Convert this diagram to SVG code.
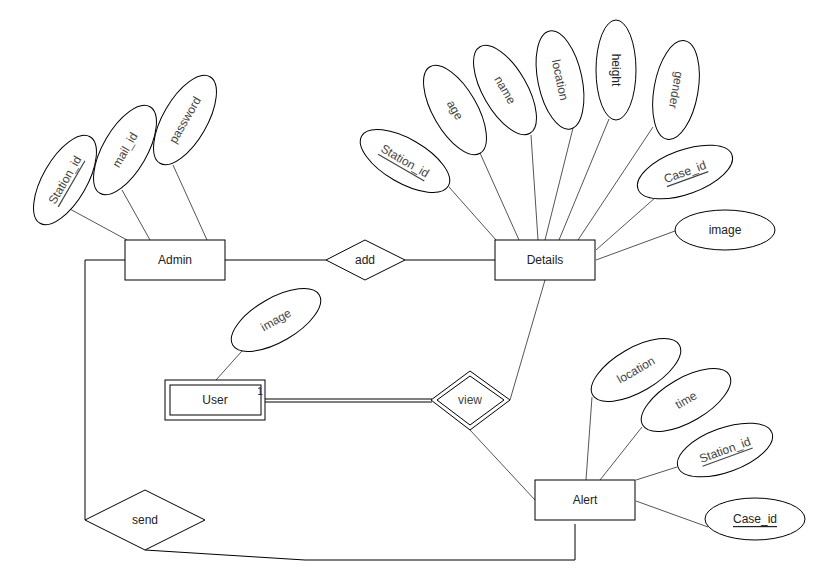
<svg xmlns="http://www.w3.org/2000/svg" width="827" height="582" viewBox="0 0 827 582">
<style>
.ent{fill:#fff;stroke:#000;stroke-width:1}
.att{fill:#fff;stroke:#000;stroke-width:1}
.rel{fill:#fff;stroke:#000;stroke-width:1}
.lbl{font-family:"Liberation Sans",Arial,sans-serif;font-size:12px;fill:#222;text-anchor:middle;dominant-baseline:central}
.albl{font-family:"Liberation Sans",Arial,sans-serif;font-size:12px;fill:#444;text-anchor:middle;dominant-baseline:central}
.u{text-decoration:underline}
.c{stroke:#000;stroke-width:1;fill:none}
.ca{stroke:#555;stroke-width:1;fill:none}
</style>
<rect width="827" height="582" fill="#fff"/>
<g id="connectors">
  <line class="c" x1="225" y1="260" x2="326" y2="260"/>
  <line class="c" x1="405" y1="260" x2="495" y2="260"/>
  <polyline class="c" points="125,260 85,260 85,520"/>
  <polyline class="c" points="145,550 305,560 575,560 575,524"/>
  <line class="c" x1="265" y1="399" x2="432" y2="399"/>
  <line class="c" x1="265" y1="402" x2="432" y2="402"/>
  <line class="ca" x1="545" y1="280" x2="510" y2="400"/>
  <line class="ca" x1="470" y1="430" x2="535" y2="500"/>
  <line class="ca" x1="68" y1="208" x2="127" y2="240"/>
  <line class="ca" x1="122" y1="190" x2="150" y2="240"/>
  <line class="ca" x1="173" y1="165" x2="207" y2="240"/>
  <line class="ca" x1="449" y1="187" x2="496" y2="240"/>
  <line class="ca" x1="480" y1="153" x2="519" y2="240"/>
  <line class="ca" x1="531" y1="135" x2="538" y2="240"/>
  <line class="ca" x1="573" y1="128" x2="545" y2="240"/>
  <line class="ca" x1="609" y1="119" x2="559" y2="240"/>
  <line class="ca" x1="653" y1="127" x2="578" y2="240"/>
  <line class="ca" x1="656" y1="197" x2="596" y2="250"/>
  <line class="ca" x1="675" y1="231" x2="596" y2="260"/>
  <line class="ca" x1="242" y1="351" x2="216" y2="380"/>
  <line class="ca" x1="592" y1="397" x2="586" y2="480"/>
  <line class="ca" x1="642" y1="427" x2="600" y2="480"/>
  <line class="ca" x1="677" y1="467" x2="636" y2="480"/>
  <line class="ca" x1="708" y1="527" x2="636" y2="501"/>
</g>
<g id="admin"><rect class="ent" x="125" y="240" width="100" height="40"/><text class="lbl" x="175" y="260">Admin</text></g>
<g id="add"><polygon class="rel" points="365,240 405,260 365,280 326,260"/><text class="lbl" x="365" y="260">add</text></g>
<g id="details"><rect class="ent" x="495" y="240" width="100" height="40"/><text class="lbl" x="545" y="260">Details</text></g>
<g id="user"><rect class="ent" x="165" y="380" width="100" height="40"/><rect class="ent" x="170" y="385" width="91" height="30"/><text class="lbl" x="215" y="400">User</text><text class="lbl" x="260" y="391" style="font-size:10px">1</text></g>
<g id="view"><polygon class="rel" points="470,371 510,400 470,430 431,400"/><polygon class="rel" points="470,376 504,400 470,425 437,400"/><text class="albl" x="470" y="400">view</text></g>
<g id="alert"><rect class="ent" x="535" y="480" width="100" height="40"/><text class="lbl" x="585" y="500">Alert</text></g>
<g id="send"><polygon class="rel" points="145,490 205,520 145,550 85,520"/><text class="lbl" x="145" y="520">send</text></g>
<g id="admin-station-id" transform="translate(65,180) rotate(-60)"><ellipse class="att" rx="50" ry="22"/><text class="albl u" x="0" y="0">Station_id</text></g>
<g id="admin-mail-id" transform="translate(125,150) rotate(-60)"><ellipse class="att" rx="50" ry="22"/><text class="albl" x="0" y="0">mail_id</text></g>
<g id="admin-password" transform="translate(185,120) rotate(-60)"><ellipse class="att" rx="50" ry="22"/><text class="albl" x="0" y="0">password</text></g>
<g id="details-station-id" transform="translate(405,161) rotate(30)"><ellipse class="att" rx="50" ry="22"/><text class="albl u" x="0" y="0">Station_id</text></g>
<g id="details-age" transform="translate(455,110) rotate(60)"><ellipse class="att" rx="50" ry="22"/><text class="albl" x="0" y="0">age</text></g>
<g id="details-name" transform="translate(505,90) rotate(60)"><ellipse class="att" rx="50" ry="22"/><text class="albl" x="0" y="0">name</text></g>
<g id="details-location" transform="translate(560,80) rotate(78)"><ellipse class="att" rx="50" ry="22"/><text class="albl" x="0" y="0">location</text></g>
<g id="details-height" transform="translate(616,70) rotate(90)"><ellipse class="att" rx="50" ry="20"/><text class="lbl" x="0" y="0">height</text></g>
<g id="details-gender" transform="translate(676,90) rotate(100)"><ellipse class="att" rx="50" ry="22"/><text class="albl" x="0" y="0">gender</text></g>
<g id="details-case-id" transform="translate(685,172) rotate(-20)"><ellipse class="att" rx="50" ry="22"/><text class="albl u" x="0" y="0">Case_id</text></g>
<g id="details-image"><ellipse class="att" cx="725" cy="230" rx="50" ry="20"/><text class="lbl" x="725" y="230">image</text></g>
<g id="user-image" transform="translate(276,320) rotate(-30)"><ellipse class="att" rx="50" ry="22"/><text class="albl" x="0" y="0">image</text></g>
<g id="alert-location" transform="translate(636,370) rotate(-30)"><ellipse class="att" rx="50" ry="22"/><text class="albl" x="0" y="0">location</text></g>
<g id="alert-time" transform="translate(686,400) rotate(-30)"><ellipse class="att" rx="50" ry="22"/><text class="albl" x="0" y="0">time</text></g>
<g id="alert-station-id" transform="translate(725,450) rotate(-20)"><ellipse class="att" rx="50" ry="22"/><text class="albl u" x="0" y="0">Station_id</text></g>
<g id="alert-case-id"><ellipse class="att" cx="755" cy="519" rx="50" ry="21"/><text class="lbl u" x="755" y="519">Case_id</text></g>
</svg>
